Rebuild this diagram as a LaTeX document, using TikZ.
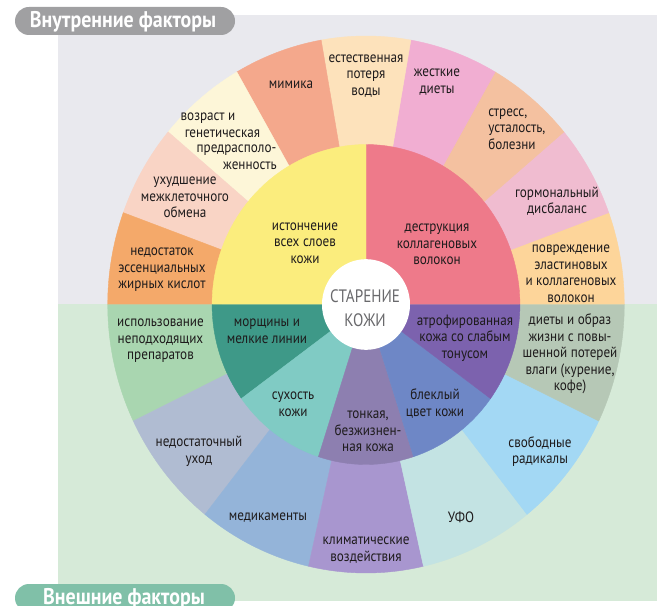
\documentclass[tikz,border=0pt]{standalone}
\usepackage{fontspec}
\setmainfont{PT Sans}[FakeStretch=0.88]
\newfontfamily\pillfont{PT Sans}[FakeStretch=0.88]
\newfontfamily\centerfont{PT Sans}[FakeStretch=0.84]
\definecolor{bgtop}{RGB}{233,233,238}
\definecolor{bgbot}{RGB}{214,234,216}
\definecolor{pilltop}{RGB}{160,160,162}
\definecolor{pillbot}{RGB}{128,192,168}
\definecolor{txt}{RGB}{30,27,28}
\definecolor{ctxt}{RGB}{105,105,108}
\definecolor{cYellow}{RGB}{251,237,125}
\definecolor{cRed}{RGB}{238,122,138}
\definecolor{cMorsh}{RGB}{62,153,136}
\definecolor{cSuh}{RGB}{128,203,196}
\definecolor{cTonk}{RGB}{141,127,176}
\definecolor{cBlek}{RGB}{110,135,198}
\definecolor{cAtro}{RGB}{124,98,174}
\definecolor{cNedo}{RGB}{244,169,106}
\definecolor{cUhud}{RGB}{249,212,197}
\definecolor{cVozr}{RGB}{253,246,216}
\definecolor{cMim}{RGB}{244,168,140}
\definecolor{cEst}{RGB}{253,226,187}
\definecolor{cZhes}{RGB}{241,174,210}
\definecolor{cStr}{RGB}{244,193,160}
\definecolor{cGorm}{RGB}{240,188,208}
\definecolor{cPovr}{RGB}{253,213,154}
\definecolor{cIsp}{RGB}{169,214,176}
\definecolor{cUhod}{RGB}{176,188,210}
\definecolor{cMed}{RGB}{148,180,217}
\definecolor{cKlim}{RGB}{168,150,207}
\definecolor{cUfo}{RGB}{195,227,227}
\definecolor{cRad}{RGB}{163,216,244}
\definecolor{cDiet}{RGB}{182,200,182}
\newcommand\segfill[5]{%
  \fill[#1,draw=#1,line width=0.3pt] plot[domain=#2:#3,samples=36,variable=\t]
    ({366+0.962*#5*cos(\t)},{304.5-#5*sin(\t)})
    -- plot[domain=#3:#2,samples=36,variable=\t]
    ({366+0.962*#4*cos(\t)},{304.5-#4*sin(\t)}) -- cycle;}
\tikzset{
  lbl/.style={text=txt,align=center,inner sep=0pt,
    font=\fontsize{11.2}{12.4}\selectfont},
  pilltext/.style={text=white,inner sep=0pt,
    font=\pillfont\bfseries\fontsize{17}{18}\selectfont},
}
\begin{document}
\begin{tikzpicture}[x=0.75pt,y=-0.75pt]
\useasboundingbox (0,0) rectangle (657,606);
\clip (0,0) rectangle (657,606);
\fill[bgtop] (58,15) rectangle (657,304);
\fill[bgbot] (58,304) rectangle (657,601);
% outer ring, top half
\segfill{cPovr}{0}{20}{150}{268.5}
\segfill{cGorm}{20}{40}{150}{268.5}
\segfill{cStr}{40}{60}{150}{268.5}
\segfill{cZhes}{60}{80}{150}{268.5}
\segfill{cEst}{80}{100}{150}{268.5}
\segfill{cMim}{100}{120}{150}{268.5}
\segfill{cVozr}{120}{140}{150}{268.5}
\segfill{cUhud}{140}{160}{150}{268.5}
\segfill{cNedo}{160}{180}{150}{268.5}
% outer ring, bottom half
\segfill{cIsp}{180}{205.714}{150}{268.5}
\segfill{cUhod}{205.714}{231.429}{150}{268.5}
\segfill{cMed}{231.429}{257.143}{150}{268.5}
\segfill{cKlim}{257.143}{282.857}{150}{268.5}
\segfill{cUfo}{282.857}{308.571}{150}{268.5}
\segfill{cRad}{308.571}{334.286}{150}{268.5}
\segfill{cDiet}{334.286}{360}{150}{268.5}
% inner ring
\segfill{cRed}{0}{90}{30}{160}
\segfill{cYellow}{90}{180}{30}{160}
\segfill{cMorsh}{180}{216}{30}{160}
\segfill{cSuh}{216}{252}{30}{160}
\segfill{cTonk}{252}{288}{30}{160}
\segfill{cBlek}{288}{324}{30}{160}
\segfill{cAtro}{324}{360}{30}{160}
% centre
\fill[white] (366,304.5) ellipse [x radius=33pt, y radius=34pt];
\node[text=ctxt,align=center,inner sep=0pt,
  font=\centerfont\fontsize{13.5}{18}\selectfont] (center) at (365,308)
  {СТАРЕНИЕ\\КОЖИ};
% pills
\fill[pilltop] (15,7) [rounded corners=10.5pt] rectangle (235,35);
\node[pilltext] (intern) at (123,22) {Внутренние факторы};
\fill[pillbot] (15,584) [rounded corners=10.5pt] rectangle (235,612);
\node[pilltext] (extern) at (124,599) {Внешние факторы};
% labels, top outer
\node[lbl] (mim) at (291,85) {мимика};
\node[lbl] (est) at (366,76) {естественная\\потеря\\воды};
\node[lbl] (zhes) at (437,82) {жесткие\\диеты};
\node[lbl,align=left,anchor=west] (str) at (488,129) {стресс,\\усталость,\\болезни};
\node[lbl] (gorm) at (557,201) {гормональный\\дисбаланс};
\node[lbl] (povr) at (571,274) {повреждение\\эластиновых\\и коллагеновых\\волокон};
\node[lbl] (vozr1) at (208,118) {возраст и};
\node[lbl] (vozr2) at (222.5,134) {генетическая};
\node[lbl] (vozr3) at (236.5,150) {предрасполо-};
\node[lbl] (vozr4) at (250,166) {женность};
\node[lbl] (uhud) at (185,197.5) {ухудшение\\межклеточного\\обмена};
\node[lbl] (nedo) at (162,270) {недостаток\\эссенциальных\\жирных кислот};
% labels, inner
\node[lbl] (iston) at (305,243) {истончение\\всех слоев\\кожи};
\node[lbl] (destr) at (437,244.5) {деструкция\\коллагеновых\\волокон};
\node[lbl] (morsh) at (267,331) {морщины и\\мелкие линии};
\node[lbl] (atro) at (465,338) {атрофированная\\кожа со слабым\\тонусом};
\node[lbl] (suh) at (293,404.5) {сухость\\кожи};
\node[lbl] (tonk) at (368,431.5) {тонкая,\\безжизнен-\\ная кожа};
\node[lbl] (blek) at (435,403.5) {блеклый\\цвет кожи};
% labels, bottom outer
\node[lbl] (isp) at (160.5,341) {использование\\неподходящих\\препаратов};
\node[lbl] (uhod) at (199,451.5) {недостаточный\\уход};
\node[lbl] (med) at (268,518) {медикаменты};
\node[lbl] (klim) at (366,550) {климатические\\воздействия};
\node[lbl] (ufo) at (461,517) {УФО};
\node[lbl] (rad) at (540,451.5) {свободные\\радикалы};
\node[lbl] (diet) at (570,354) {диеты и образ\\жизни с повы-\\шенной потерей\\влаги (курение,\\кофе)};
\end{tikzpicture}
\end{document}
